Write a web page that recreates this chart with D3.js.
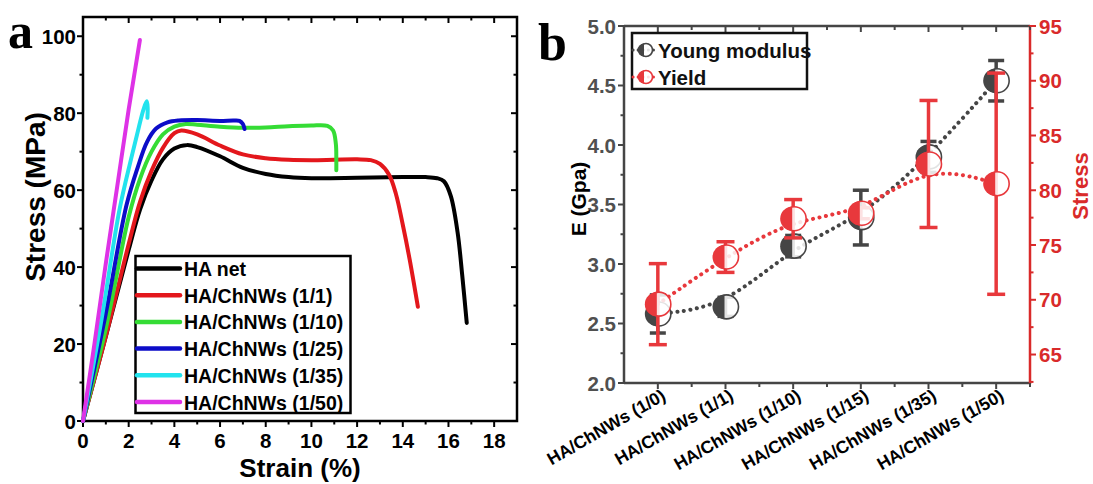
<!DOCTYPE html>
<html><head><meta charset="utf-8">
<script src="https://cdn.jsdelivr.net/npm/d3@7"></script>
<style>
body{margin:0;background:#fff;}
svg text{font-family:"Liberation Sans",Arial,sans-serif;font-weight:bold;}
</style></head>
<body><svg id="c" width="1093" height="484"></svg>
<script>
// ---------- Panel a data ----------
const seriesNames = ["HA net","HA/ChNWs (1/1)","HA/ChNWs (1/10)","HA/ChNWs (1/25)","HA/ChNWs (1/35)","HA/ChNWs (1/50)"];
const seriesColors = ["#000000","#e3171c","#35dc35","#0c0cc8","#22e3ee","#de32e6"];
const haNet = [[0,0],[1,22],[2,44.5],[2.5,55],[3,62.5],[3.5,68],[4,70.8],[4.55,71.7],[5,71.2],[6,68.8],[7,65.8],[8,64.2],[9,63.4],[10,63.1],[12,63.2],[14,63.4],[15,63.4],[15.5,63.1],[15.8,62.3],[16.1,58.5],[16.4,49],[16.6,38],[16.8,25.5]];
const ha11 = [[0,0],[1,22],[2,46],[2.5,57],[3,65],[3.5,71],[4,74.8],[4.3,75.5],[5,74.5],[6,71.6],[7,69.3],[8,68.3],[9,67.9],[10,67.8],[11,67.9],[12,68.0],[12.6,67.8],[13,66.8],[13.4,64],[13.7,59],[14,51],[14.3,42],[14.66,29.7]];
const ha110 = [[0,0],[1,24],[2,53],[2.5,63],[3,70],[3.5,74.5],[4,76.5],[4.5,77.2],[5,77],[6,76.5],[7,76.2],[8,76.3],[9,76.6],[10,76.8],[10.7,76.7],[10.95,75.5],[11.07,72],[11.09,68],[11.09,65.2]];
const ha125 = [[0,0],[1,28],[1.9,56],[2.4,66],[2.8,72.5],[3.2,76],[3.7,77.6],[4.2,78.1],[5,78.2],[6,78],[6.6,78.1],[6.85,78],[7.0,77.2],[7.07,75.9]];
const ha135 = [[0,0],[0.8,26],[1.6,55],[2.1,68],[2.45,76.5],[2.65,81],[2.79,83.1],[2.83,81.5],[2.82,78.8]];
const ha150 = [[0,0],[0.5,20],[1,41],[1.5,61],[2,81],[2.3,92],[2.49,99]];
const curvesA = [haNet, ha11, ha110, ha125, ha135, ha150];
const xTicksA = [0,2,4,6,8,10,12,14,16,18];
const yTicksA = [0,20,40,60,80,100];

// ---------- Panel b data ----------
const categories = ["HA/ChNWs (1/0)","HA/ChNWs (1/1)","HA/ChNWs (1/10)","HA/ChNWs (1/15)","HA/ChNWs (1/35)","HA/ChNWs (1/50)"];
const youngModulus = [2.58, 2.64, 3.15, 3.39, 3.90, 4.54];
const youngErr = [0.16, 0.08, 0.09, 0.23, 0.13, 0.17];
const yieldStress = [69.6, 73.9, 77.4, 77.9, 82.4, 80.6];
const yieldErr = [3.7, 1.4, 1.75, 0.5, 5.8, 10.1];
const leftTicksB = [2.0,2.5,3.0,3.5,4.0,4.5,5.0];
const rightTicksB = [65,70,75,80,85,90,95];

const svg = d3.select("#c");
const FS = 20.5;

// ================= Panel a =================
const xa = d3.scaleLinear().domain([0,19]).range([83,517]);
const ya = d3.scaleLinear().domain([0,105]).range([421,17]);
const ga = svg.append("g");
ga.append("rect").attr("x",xa(0)).attr("y",ya(105)).attr("width",xa(19)-xa(0)).attr("height",ya(0)-ya(105))
  .attr("fill","none").attr("stroke","#000").attr("stroke-width",2.5);
const minorXA = d3.range(1,19,2), minorYA = d3.range(10,105,20);
function ticksA(){
  const g = ga.append("g").attr("stroke","#000").attr("stroke-width",2);
  xTicksA.forEach(v=>{g.append("line").attr("x1",xa(v)).attr("x2",xa(v)).attr("y1",ya(0)).attr("y2",ya(0)+6);
    g.append("line").attr("x1",xa(v)).attr("x2",xa(v)).attr("y1",ya(105)).attr("y2",ya(105)+6);});
  minorXA.forEach(v=>{g.append("line").attr("x1",xa(v)).attr("x2",xa(v)).attr("y1",ya(0)).attr("y2",ya(0)+3.5);
    g.append("line").attr("x1",xa(v)).attr("x2",xa(v)).attr("y1",ya(105)).attr("y2",ya(105)+3.5);});
  yTicksA.forEach(v=>{g.append("line").attr("x1",xa(0)).attr("x2",xa(0)-6).attr("y1",ya(v)).attr("y2",ya(v));
    g.append("line").attr("x1",xa(19)).attr("x2",xa(19)-6).attr("y1",ya(v)).attr("y2",ya(v));});
  minorYA.forEach(v=>{g.append("line").attr("x1",xa(0)).attr("x2",xa(0)-3.5).attr("y1",ya(v)).attr("y2",ya(v));
    g.append("line").attr("x1",xa(19)).attr("x2",xa(19)-3.5).attr("y1",ya(v)).attr("y2",ya(v));});
}
ticksA();
xTicksA.forEach(v=>ga.append("text").attr("x",xa(v)).attr("y",ya(0)+27).attr("text-anchor","middle").attr("font-size",FS).text(v));
yTicksA.forEach(v=>ga.append("text").attr("x",xa(0)-7).attr("y",ya(v)+7.5).attr("text-anchor","end").attr("font-size",FS).text(v));
ga.append("text").attr("x",300).attr("y",477).attr("text-anchor","middle").attr("font-size",26).text("Strain (%)");
ga.append("text").attr("transform","translate(45,197) rotate(-90)").attr("text-anchor","middle").attr("font-size",28).text("Stress (MPa)");
ga.append("text").attr("x",8).attr("y",48).attr("font-size",50).style("font-family","'Liberation Serif','Times New Roman',serif").text("a");

const lineA = d3.line().x(d=>xa(d[0])).y(d=>ya(d[1])).curve(d3.curveCatmullRom.alpha(0.5));
curvesA.forEach((c,i)=>ga.append("path").attr("d",lineA(c)).attr("fill","none").attr("stroke",seriesColors[i])
  .attr("stroke-width",4).attr("stroke-linecap","round").attr("stroke-linejoin","round"));
const lg = ga.append("g");
lg.append("rect").attr("x",135.5).attr("y",256).attr("width",215).attr("height",157).attr("fill","#fff").attr("stroke","#000").attr("stroke-width",2.5);
seriesNames.forEach((n,i)=>{
  const yy = 268.5 + i*26.7;
  lg.append("line").attr("x1",137).attr("x2",180).attr("y1",yy).attr("y2",yy).attr("stroke",seriesColors[i]).attr("stroke-width",4.5).attr("stroke-linecap","round");
  lg.append("text").attr("x",184).attr("y",yy+7.5).attr("font-size",19.5).text(n);
});

// ================= Panel b =================
const xb = d3.scaleLinear().domain([0.5,6.5]).range([624,1030]);
const yb = d3.scaleLinear().domain([2,5]).range([383,26]);
const yr = d3.scaleLinear().domain([62.4,95]).range([383,26]);
const gb = svg.append("g");
const gray = "#454545", red = "#e8383c", axRed = "#d92a2a";
gb.append("line").attr("x1",xb(0.5)).attr("x2",xb(6.5)).attr("y1",yb(2)).attr("y2",yb(2)).attr("stroke",gray).attr("stroke-width",2.5);
gb.append("line").attr("x1",xb(0.5)).attr("x2",xb(6.5)).attr("y1",yb(5)).attr("y2",yb(5)).attr("stroke",gray).attr("stroke-width",2.5);
gb.append("line").attr("x1",xb(0.5)).attr("x2",xb(0.5)).attr("y1",yb(2)).attr("y2",yb(5)).attr("stroke",gray).attr("stroke-width",2.5);
gb.append("line").attr("x1",xb(6.5)).attr("x2",xb(6.5)).attr("y1",yb(2)+1).attr("y2",yb(5)-1).attr("stroke",axRed).attr("stroke-width",2.5);
const tg = gb.append("g").attr("stroke",gray).attr("stroke-width",2);
categories.forEach((c,i)=>{const v=i+1;
  tg.append("line").attr("x1",xb(v)).attr("x2",xb(v)).attr("y1",yb(2)).attr("y2",yb(2)+6);
  tg.append("line").attr("x1",xb(v)).attr("x2",xb(v)).attr("y1",yb(5)).attr("y2",yb(5)+6);
  tg.append("line").attr("x1",xb(v+0.5)).attr("x2",xb(v+0.5)).attr("y1",yb(2)).attr("y2",yb(2)+4);
  tg.append("line").attr("x1",xb(v+0.5)).attr("x2",xb(v+0.5)).attr("y1",yb(5)).attr("y2",yb(5)+4);
});
leftTicksB.forEach(v=>{
  tg.append("line").attr("x1",xb(0.5)).attr("x2",xb(0.5)-6).attr("y1",yb(v)).attr("y2",yb(v));
  if(v<5) tg.append("line").attr("x1",xb(0.5)).attr("x2",xb(0.5)-3.5).attr("y1",yb(v+0.25)).attr("y2",yb(v+0.25));
  gb.append("text").attr("x",xb(0.5)-8).attr("y",yb(v)+7.5).attr("text-anchor","end").attr("font-size",FS).attr("fill","#505050").text(v.toFixed(1));
});
const rt = gb.append("g").attr("stroke",axRed).attr("stroke-width",2);
rightTicksB.forEach(v=>{
  rt.append("line").attr("x1",xb(6.5)).attr("x2",xb(6.5)+6).attr("y1",yr(v)).attr("y2",yr(v));
  rt.append("line").attr("x1",xb(6.5)).attr("x2",xb(6.5)+3.5).attr("y1",yr(v-2.5)).attr("y2",yr(v-2.5));
  gb.append("text").attr("x",xb(6.5)+9).attr("y",yr(v)+7.5).attr("font-size",FS).attr("fill",axRed).text(v);
});
categories.forEach((c,i)=>{
  gb.append("text").attr("transform",`translate(${xb(i+1)+9},${yb(2)+16}) rotate(-30)`).attr("text-anchor","end")
    .attr("font-size",17.5).text(c);
});
gb.append("text").attr("transform","translate(586,199) rotate(-90)").attr("text-anchor","middle").attr("font-size",21).text("E (Gpa)");
gb.append("text").attr("transform","translate(1088,186) rotate(-90)").attr("text-anchor","middle").attr("font-size",22).attr("fill",axRed).text("Stress");
gb.append("text").attr("x",538).attr("y",60).attr("font-size",52).style("font-family","'Liberation Serif','Times New Roman',serif").text("b");

const lineY = d3.line().x((d,i)=>xb(i+1)).y(d=>yb(d)).curve(d3.curveBasis);
const lineR = d3.line().x((d,i)=>xb(i+1)).y(d=>yr(d)).curve(d3.curveBasis);
function halfMarker(g,cx,cy,col,r){
  g.append("circle").attr("cx",cx+2).attr("cy",cy).attr("r",r).attr("fill","#fff").attr("fill-opacity",0.85).attr("stroke",col).attr("stroke-width",1.6);
  g.append("path").attr("d",`M${cx},${cy-r} A${r},${r} 0 0 0 ${cx},${cy+r} Z`).attr("fill",col);
}
function series(vals,errs,scale,col,lineGen,capW){
  const g = gb.append("g");
  g.append("path").attr("d",lineGen(vals)).attr("fill","none").attr("stroke",col).attr("stroke-width",4)
    .attr("stroke-dasharray","0.1 6.5").attr("stroke-linecap","round");
  vals.forEach((v,i)=>{
    const cx=xb(i+1), y1=scale(v-errs[i]), y2=scale(v+errs[i]);
    g.append("line").attr("x1",cx).attr("x2",cx).attr("y1",y1).attr("y2",y2).attr("stroke",col).attr("stroke-width",3.5);
    [y1,y2].forEach(y=>g.append("line").attr("x1",cx-capW/2).attr("x2",cx+capW/2).attr("y1",y).attr("y2",y).attr("stroke",col).attr("stroke-width",3.5));
  });
  vals.forEach((v,i)=>halfMarker(g,xb(i+1)-1,scale(v),col,12));
}
series(youngModulus,youngErr,yb,gray,lineY,16);
series(yieldStress,yieldErr,yr,red,lineR,18);

const lb = gb.append("g");
lb.append("rect").attr("x",632).attr("y",33).attr("width",175).attr("height",56).attr("fill","#fff").attr("stroke","#111").attr("stroke-width",2.5);
[["Young modulus",gray,50],["Yield",red,77]].forEach(([t,c,yy])=>{
  lb.append("line").attr("x1",633).attr("x2",656).attr("y1",yy).attr("y2",yy).attr("stroke",c).attr("stroke-width",3)
    .attr("stroke-dasharray","0.1 5").attr("stroke-linecap","round");
  halfMarker(lb,644,yy,c,6.5);
  lb.append("text").attr("x",658).attr("y",yy+7.5).attr("font-size",20.5).attr("fill","#111").text(t);
});
</script></body></html>
